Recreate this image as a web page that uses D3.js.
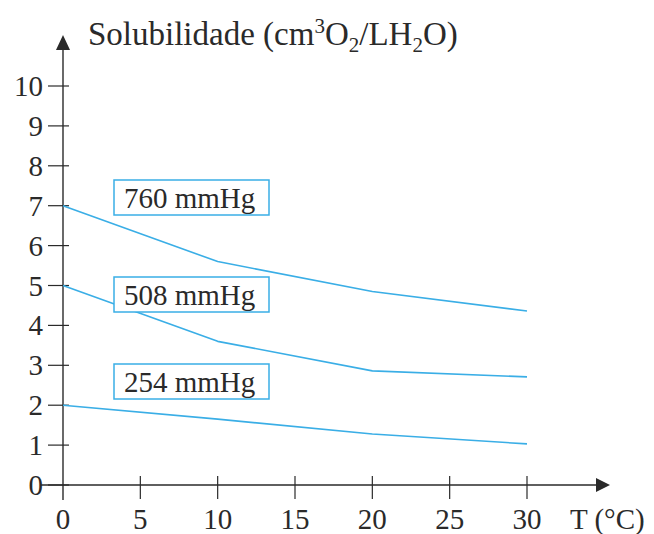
<!DOCTYPE html>
<html><head><meta charset="utf-8">
<script src="https://cdn.jsdelivr.net/npm/d3@7"></script>
<style>body{margin:0;background:#fff}svg{display:block}</style>
</head><body>
<svg id="c" width="654" height="534"></svg>
<script>
const temps = [0, 10, 20, 30];
const s760 = [7, 5.6, 4.85, 4.36];
const s508 = [5, 3.6, 2.86, 2.71];
const s254 = [2, 1.65, 1.28, 1.03];
const seriesNames = ["760 mmHg", "508 mmHg", "254 mmHg"];
const xTicks = [0, 5, 10, 15, 20, 25, 30];
const yTicks = [0, 1, 2, 3, 4, 5, 6, 7, 8, 9, 10];

const svg = d3.select("#c");
const font = "'Liberation Serif', 'DejaVu Serif', serif";
const ink = "#2a2a2a";
const blue = "#3aaee6";
const fs = 29;
const x = d3.scaleLinear().domain([0, 30]).range([63, 527]);
const y = d3.scaleLinear().domain([0, 10]).range([485, 86]);

// axes lines
svg.append("line").attr("x1", 40).attr("x2", 598).attr("y1", y(0)).attr("y2", y(0)).attr("stroke", ink).attr("stroke-width", 1.4);
svg.append("path").attr("d", `M596,${y(0)-7}L610,${y(0)}L596,${y(0)+7}Z`).attr("fill", ink);
svg.append("line").attr("x1", x(0)).attr("x2", x(0)).attr("y1", 500).attr("y2", 48).attr("stroke", ink).attr("stroke-width", 1.4);
svg.append("path").attr("d", `M${x(0)-7},50L${x(0)},35L${x(0)+7},50Z`).attr("fill", ink);

// y ticks
const yt = svg.append("g");
yTicks.forEach(v => {
  yt.append("line").attr("x1", x(0) - 15).attr("x2", x(0) + 6).attr("y1", y(v)).attr("y2", y(v)).attr("stroke", ink).attr("stroke-width", 1.2);
  yt.append("text").attr("x", 43).attr("y", y(v) + 10).attr("text-anchor", "end")
    .attr("font-family", font).attr("font-size", fs).attr("fill", ink).text(v);
});
// x ticks
const xt = svg.append("g");
xTicks.forEach(v => {
  if (v !== 0) xt.append("line").attr("x1", x(v)).attr("x2", x(v)).attr("y1", y(0) - 9).attr("y2", y(0) + 14).attr("stroke", ink).attr("stroke-width", 1.2);
  xt.append("text").attr("x", x(v)).attr("y", 529).attr("text-anchor", "middle")
    .attr("font-family", font).attr("font-size", fs).attr("fill", ink).text(v);
});
svg.append("text").attr("x", 570).attr("y", 529).attr("font-family", font).attr("font-size", fs).attr("fill", ink).text("T (°C)");

// title
const t = svg.append("text").attr("x", 88).attr("y", 45).attr("font-family", font).attr("font-size", 33).attr("fill", ink);
t.append("tspan").text("Solubilidade (cm");
t.append("tspan").attr("dy", -12).attr("font-size", 21).text("3");
t.append("tspan").attr("dy", 12).text("O");
t.append("tspan").attr("dy", 7).attr("font-size", 21).text("2");
t.append("tspan").attr("dy", -7).text("/LH");
t.append("tspan").attr("dy", 7).attr("font-size", 21).text("2");
t.append("tspan").attr("dy", -7).text("O)");

// lines
const line = d3.line().x((d, i) => x(temps[i])).y(d => y(d));
[s760, s508, s254].forEach(s => {
  svg.append("path").attr("d", line(s)).attr("fill", "none").attr("stroke", blue).attr("stroke-width", 1.6).attr("stroke-linejoin", "round");
});

// label boxes
const boxY = [180, 277, 364];
seriesNames.forEach((n, i) => {
  svg.append("rect").attr("x", 114).attr("y", boxY[i]).attr("width", 155).attr("height", 35)
    .attr("fill", "#fff").attr("stroke", blue).attr("stroke-width", 1.5);
  svg.append("text").attr("x", 124).attr("y", boxY[i] + 28).attr("font-family", font).attr("font-size", fs).attr("fill", ink).text(n);
});
</script>
</body></html>
